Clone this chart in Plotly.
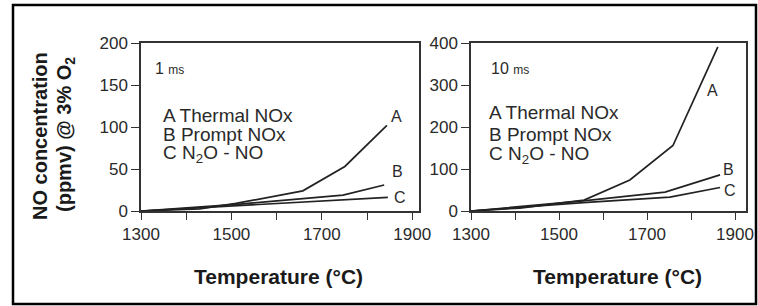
import plotly.graph_objects as go

# ---- data (temperature in deg C, NO in ppmv) ----
T_1ms_A = [1300, 1430, 1510, 1658, 1751, 1844]
NO_1ms_A = [0, 2.5, 9, 24, 53, 102]
T_1ms_B = [1300, 1519, 1747, 1838]
NO_1ms_B = [0, 8.3, 19, 31]
T_1ms_C = [1300, 1519, 1740, 1846]
NO_1ms_C = [0, 6.5, 12.5, 16.3]

T_10ms_A = [1300, 1411, 1557, 1661, 1759, 1861]
NO_10ms_A = [0, 7, 26, 74, 156, 391]
T_10ms_B = [1300, 1555, 1741, 1866]
NO_10ms_B = [0, 24, 45, 86]
T_10ms_C = [1300, 1555, 1752, 1866]
NO_10ms_C = [0, 20, 33, 56]

x1_range = [1300, 1915]
x2_range = [1300, 1925]
y1_ticks = [0, 50, 100, 150, 200]
y2_ticks = [0, 100, 200, 300, 400]
legend_lines = ["A Thermal NOx", "B Prompt NOx", "C N<sub>2</sub>O - NO"]
curve_labels = ["A", "B", "C"]

W, H = 758, 306
LINE = "#222222"
TXT = "#2a2a2a"
FONT = "Liberation Sans, Arial, sans-serif"

def px(x):
    return x / W

def py(y):
    return 1 - y / H

fig = go.Figure()
for xs, ys in [(T_1ms_A, NO_1ms_A), (T_1ms_B, NO_1ms_B), (T_1ms_C, NO_1ms_C)]:
    fig.add_trace(go.Scatter(x=xs, y=ys, mode="lines", xaxis="x", yaxis="y",
                             line=dict(color=LINE, width=1.7), showlegend=False))
for xs, ys in [(T_10ms_A, NO_10ms_A), (T_10ms_B, NO_10ms_B), (T_10ms_C, NO_10ms_C)]:
    fig.add_trace(go.Scatter(x=xs, y=ys, mode="lines", xaxis="x2", yaxis="y2",
                             line=dict(color=LINE, width=1.7), showlegend=False))

ydom = [py(211), py(43)]
common_x = dict(tick0=1300, dtick=200, automargin=False,
                ticks="outside", ticklen=7, tickwidth=1.3, tickcolor="#333",
                minor=dict(tick0=1300, dtick=100, ticks="outside", ticklen=7,
                           tickwidth=1.3, tickcolor="#333", showgrid=False),
                showline=True, linecolor="#333", linewidth=1.5, mirror=True,
                showgrid=False, zeroline=False,
                tickfont=dict(family=FONT, size=17, color=TXT))
common_y = dict(ticks="outside", ticklen=8, tickwidth=1.3, tickcolor="#333",
                automargin=False,
                showline=True, linecolor="#333", linewidth=1.5, mirror=True,
                showgrid=False, zeroline=False,
                tickfont=dict(family=FONT, size=17, color=TXT))

fig.update_layout(
    template="none",
    width=W, height=H, margin=dict(l=0, r=0, t=0, b=0, autoexpand=False),
    paper_bgcolor="white", plot_bgcolor="white", showlegend=False,
    xaxis=dict(domain=[px(141), px(419)], anchor="y", range=x1_range, **common_x),
    yaxis=dict(domain=ydom, anchor="x", range=[0, 200], tickvals=y1_ticks, **common_y),
    xaxis2=dict(domain=[px(471), px(746)], anchor="y2", range=x2_range, **common_x),
    yaxis2=dict(domain=ydom, anchor="x2", range=[0, 400], tickvals=y2_ticks, **common_y),
)

ann = []
# axis titles
for cx in (278, 617):
    ann.append(dict(x=px(cx), y=py(276), xref="paper", yref="paper",
                    text="<b>Temperature (°C)</b>", showarrow=False,
                    xanchor="center", yanchor="middle",
                    font=dict(family=FONT, size=21, color="#1a1a1a")))
ann.append(dict(x=px(40), y=py(136), xref="paper", yref="paper",
                text="<b>NO concentration</b>", textangle=-90, showarrow=False,
                xanchor="center", yanchor="middle",
                font=dict(family=FONT, size=20, color="#1a1a1a")))
ann.append(dict(x=px(65), y=py(135), xref="paper", yref="paper",
                text="<b>(ppmv) @ 3% O<sub>2</sub></b>", textangle=-90, showarrow=False,
                xanchor="center", yanchor="middle",
                font=dict(family=FONT, size=20, color="#1a1a1a")))
# residence time labels
ann.append(dict(x=px(153), y=py(69), xref="paper", yref="paper",
                text="1 <span style='font-size:12px'>ms</span>", showarrow=False,
                xanchor="left", yanchor="middle",
                font=dict(family=FONT, size=16, color=TXT)))
ann.append(dict(x=px(489), y=py(69), xref="paper", yref="paper",
                text="10 <span style='font-size:12px'>ms</span>", showarrow=False,
                xanchor="left", yanchor="middle",
                font=dict(family=FONT, size=16, color=TXT)))
# in-plot legend text
for (lx, ys) in [(161, (115, 134, 154)), (487, (112, 134, 155))]:
    for t, yy in zip(legend_lines, ys):
        ann.append(dict(x=px(lx), y=py(yy), xref="paper", yref="paper",
                        text=t, showarrow=False, xanchor="left", yanchor="middle",
                        font=dict(family=FONT, size=19, color=TXT)))
# curve labels
for (lbl, (cx, cy)) in zip(curve_labels, [(396, 116), (397, 171), (400, 197)]):
    ann.append(dict(x=px(cx), y=py(cy), xref="paper", yref="paper", text=lbl,
                    showarrow=False, xanchor="center", yanchor="middle",
                    font=dict(family=FONT, size=16, color=TXT)))
for (lbl, (cx, cy)) in zip(curve_labels, [(712, 90), (728, 169), (730, 190)]):
    ann.append(dict(x=px(cx), y=py(cy), xref="paper", yref="paper", text=lbl,
                    showarrow=False, xanchor="center", yanchor="middle",
                    font=dict(family=FONT, size=16, color=TXT)))
fig.update_layout(annotations=ann)

# outer frame
fig.add_shape(type="rect", xref="paper", yref="paper",
              x0=px(13), x1=px(756), y0=py(304), y1=py(5),
              line=dict(color="black", width=2.5), fillcolor="rgba(0,0,0,0)")

# remove the browser's default 8px page margin so the figure fills the window
fig.write_html("out.html", config={"displayModeBar": False},
               post_script="document.body.style.margin='0px';")
